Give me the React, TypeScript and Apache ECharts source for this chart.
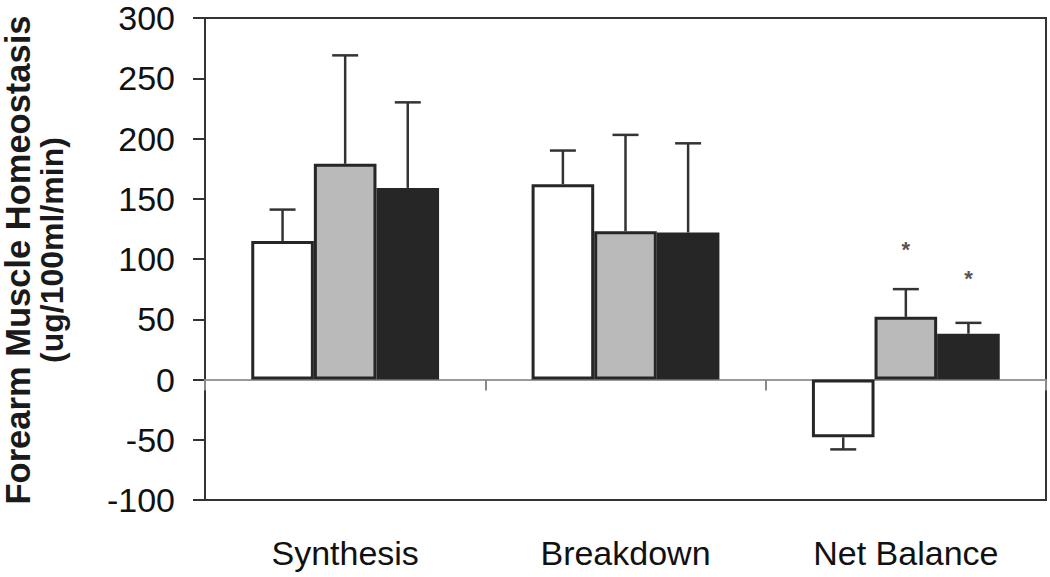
import React, { useEffect, useRef } from "react";
import * as echarts from "echarts";

const categories = ["Synthesis", "Breakdown", "Net Balance"];
const whiteMeans = [115, 162, -48];
const whiteErrors = [26, 28, 10];
const grayMeans = [179, 123, 52];
const grayErrors = [90, 80, 23];
const blackMeans = [159, 122, 38];
const blackErrors = [71, 74, 9];
const whiteMarks = ["", "", ""];
const grayMarks = ["", "", "*"];
const blackMarks = ["", "", "*"];
const whiteMarkLevels = [null, null, null];
const grayMarkLevels = [null, null, 111];
const blackMarkLevels = [null, null, 87];
const yTicks = { min: -100, max: 300, interval: 50 };
const yTitleLines = ["Forearm Muscle Homeostasis", "(ug/100ml/min)"];

const FONT = "Liberation Sans, Arial, sans-serif";
const CAT_GAP = 0.33;

const groups = [
  { name: "Group 1", means: whiteMeans, errors: whiteErrors, marks: whiteMarks, levels: whiteMarkLevels, color: "#ffffff" },
  { name: "Group 2", means: grayMeans, errors: grayErrors, marks: grayMarks, levels: grayMarkLevels, color: "#bababa" },
  { name: "Group 3", means: blackMeans, errors: blackErrors, marks: blackMarks, levels: blackMarkLevels, color: "#262626" },
];

export default function App() {
  const ref = useRef<HTMLDivElement>(null);
  useEffect(() => {
    if (!ref.current) return;
    const chart = echarts.init(ref.current, undefined, { renderer: "svg" });
    const barSeries = groups.map((g) => ({
      name: g.name,
      type: "bar",
      data: g.means,
      barGap: "0%",
      barCategoryGap: CAT_GAP * 100 + "%",
      itemStyle: { color: g.color, borderColor: "#262626", borderWidth: 3 },
      z: 2,
    }));
    const errSeries = groups.map((g, gi) => ({
      name: g.name + " error",
      type: "custom",
      z: 5,
      data: g.means.map((m, i) => [i, m, g.errors[i], g.levels[i] == null ? m : g.levels[i]]),
      renderItem: (params: any, api: any) => {
        const cat = api.value(0);
        const mean = api.value(1);
        const err = api.value(2);
        const level = api.value(3);
        const end = mean >= 0 ? mean + err : mean - err;
        const c = api.coord([cat, mean]);
        const e = api.coord([cat, end]);
        const band = api.size([1, 0])[0];
        const bw = (band * (1 - CAT_GAP)) / 3;
        const x = c[0] + (gi - 1) * bw;
        const capHalf = 13;
        const st = { stroke: "#333", lineWidth: 2.5 };
        const children: any[] = [
          { type: "line", shape: { x1: x, y1: c[1], x2: x, y2: e[1] }, style: st },
          { type: "line", shape: { x1: x - capHalf, y1: e[1], x2: x + capHalf, y2: e[1] }, style: st },
        ];
        const mark = g.marks[cat];
        if (mark) {
          const m = api.coord([cat, level]);
          children.push({
            type: "text",
            x: x,
            y: m[1] + 4,
            style: {
              text: mark,
              font: "bold 22px " + FONT,
              fill: "#555",
              align: "center",
              verticalAlign: "middle",
              textAlign: "center",
              textVerticalAlign: "middle",
            },
          });
        }
        return { type: "group", children };
      },
    }));
    chart.setOption({
      animation: false,
      backgroundColor: "#ffffff",
      grid: {
        left: 205,
        right: 4,
        top: 18,
        bottom: 77,
        show: true,
        borderColor: "#333",
        borderWidth: 2,
        backgroundColor: "transparent",
      },
      xAxis: [
        {
          type: "category",
          data: categories,
          axisLine: { onZero: true, lineStyle: { color: "#9a9a9a", width: 2 } },
          axisTick: { show: true, length: 11, lineStyle: { color: "#8a8a8a", width: 2 } },
          axisLabel: { show: false },
          splitLine: { show: false },
          z: 1,
        },
        {
          type: "category",
          data: categories,
          position: "bottom",
          axisLine: { show: false, onZero: false },
          axisTick: { show: false },
          axisLabel: { show: true, margin: 36, fontSize: 34, fontFamily: FONT, color: "#111" },
          splitLine: { show: false },
        },
      ],
      yAxis: {
        type: "value",
        min: yTicks.min,
        max: yTicks.max,
        interval: yTicks.interval,
        axisLine: { show: true, lineStyle: { color: "#333", width: 2 } },
        axisTick: { show: true, length: 12, lineStyle: { color: "#333", width: 2 } },
        axisLabel: { margin: 30, fontSize: 34, fontFamily: FONT, color: "#111" },
        splitLine: { show: false },
      },
      graphic: [
        {
          type: "text",
          x: 18,
          y: 260,
          rotation: Math.PI / 2,
          style: {
            text: yTitleLines[0],
            font: "bold 34.5px " + FONT,
            fill: "#1a1a1a",
            align: "center",
            verticalAlign: "middle",
          },
        },
        {
          type: "text",
          x: 52,
          y: 250,
          rotation: Math.PI / 2,
          style: {
            text: yTitleLines[1],
            font: "bold 32px " + FONT,
            fill: "#1a1a1a",
            align: "center",
            verticalAlign: "middle",
          },
        },
      ],
      series: [...barSeries, ...errSeries],
    });
    return () => chart.dispose();
  }, []);
  return (
    <div
      ref={ref}
      style={{ position: "fixed", left: 0, top: 0, width: 1050, height: 577, background: "#fff" }}
    />
  );
}
